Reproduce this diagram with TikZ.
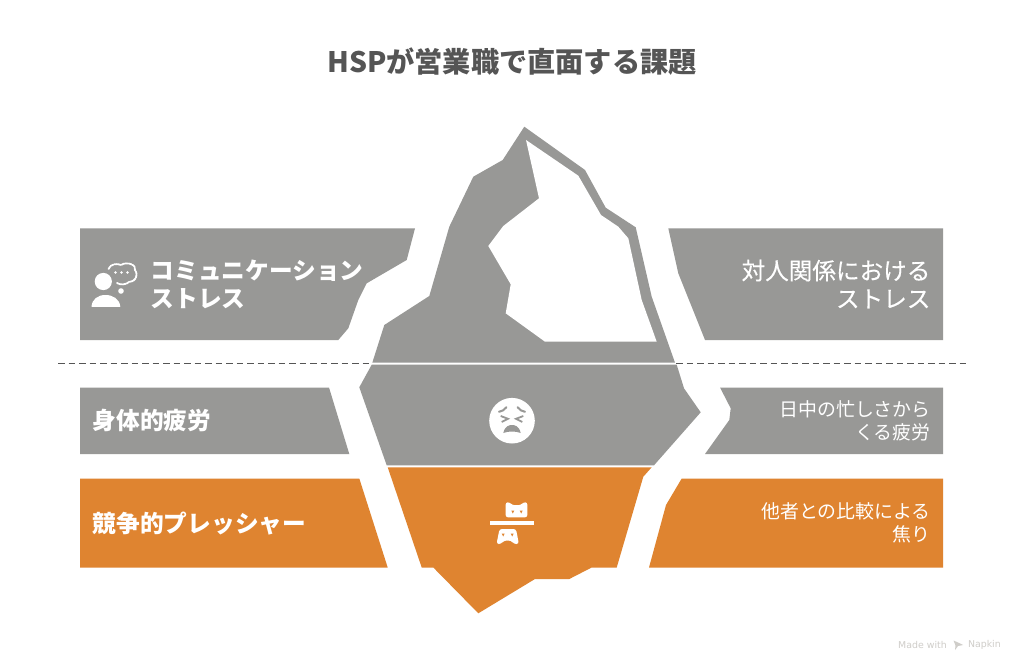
\documentclass[tikz,border=0pt]{standalone}
\usepackage{fontspec}
\setmainfont{Noto Sans CJK JP}
\newfontfamily\jpmed[FakeBold=0.25]{Noto Sans CJK JP}
\newfontfamily\wmfont{DejaVu Sans}
\definecolor{bergray}{HTML}{989896}
\definecolor{berorange}{HTML}{DF8430}
\definecolor{titlegray}{HTML}{555555}
\definecolor{wmgray}{HTML}{CFCDC9}
\tikzset{
  graypanel/.style={fill=bergray,draw=none},
  orangepanel/.style={fill=berorange,draw=none},
  whiteicon/.style={fill=white,draw=none},
  lefttext/.style={text=white,anchor=west,align=left,inner sep=0pt,font=\bfseries\fontsize{23.7}{28}\selectfont},
  righttextbig/.style={text=white,anchor=east,align=right,inner sep=0pt,font=\jpmed\fontsize{23.6}{28}\selectfont},
  righttextsmall/.style={text=white,anchor=east,align=right,inner sep=0pt,font=\fontsize{18.9}{23}\selectfont},
  wmtext/.style={text=wmgray,inner sep=0pt,font=\wmfont\fontsize{9.4}{10}\selectfont},
  dashline/.style={draw=titlegray,line width=1.4pt,dash pattern=on 6.5pt off 4pt}
}
\begin{document}
\begin{tikzpicture}[x=1pt,y=-1pt]
\useasboundingbox (0,0) rectangle (1024,671);
\fill[white] (0,0) rectangle (1024,671);
% title
\node[text=titlegray,inner sep=0pt,font=\bfseries\fontsize{28.2}{32}\selectfont] (title) at (512,62) {HSPが営業職で直面する課題};
% side panels
\path[graypanel] (80,228.3) -- (415,228.3) -- (406.7,260) -- (366.7,283.3) -- (358.3,300) -- (348.3,328.3) -- (338.3,340) -- (80,340) -- cycle;
\path[graypanel] (668.3,228.3) -- (943,228.3) -- (943,340) -- (705,340) -- (678.3,273.3) -- cycle;
\path[graypanel] (80,387.5) -- (329,387.5) -- (349.3,454) -- (80,454) -- cycle;
\path[graypanel] (720,387.5) -- (943,387.5) -- (943,454) -- (705,454) -- (729.3,420) -- (730.7,408.3) -- cycle;
\path[orangepanel] (80,478.5) -- (359.3,478.5) -- (387.7,567.5) -- (80,567.5) -- cycle;
\path[orangepanel] (681.7,478.5) -- (943,478.5) -- (943,567.5) -- (649,567.5) -- (666,505) -- cycle;
% dashed water line
\coordinate (dl1) at (58,363.5); \coordinate (dl2) at (372,363.5);
\coordinate (dr1) at (676,363.5); \coordinate (dr2) at (968,363.5);
\draw[dashline] (dl1) -- (dl2);
\draw[dashline] (dr1) -- (dr2);
% iceberg top
\path[graypanel] (524.3,126.7) -- (585,170) -- (605.7,207.7) -- (635.7,227.3) -- (651.7,296.7) -- (675,362.7) -- (372.3,362.7) -- (384.3,325) -- (429.3,296) -- (449.3,226.7) -- (473.3,176.7) -- (502.7,160) -- cycle;
\path[whiteicon] (526,140) -- (578.3,175.7) -- (601,215) -- (618.3,226.7) -- (628.3,238.3) -- (641.7,300) -- (656.7,341.7) -- (545,341.7) -- (505.7,313.3) -- (510.7,284.3) -- (488.3,246) -- (503.3,226) -- (539,198.3) -- cycle;
% iceberg middle
\path[graypanel] (371.7,364.7) -- (676.7,364.7) -- (684,388.3) -- (700.7,412.3) -- (654,465.3) -- (386.7,465.3) -- (359.3,387.3) -- cycle;
% iceberg bottom
\path[orangepanel] (387.7,467.3) -- (651.7,467.3) -- (643.3,476.7) -- (616.7,567.5) -- (591.7,567.5) -- (569.3,579) -- (535,579) -- (478.3,613.3) -- (433.3,567.5) -- (421.7,567.5) -- cycle;
% texts
\node[lefttext] (comm) at (150.4,284) {コミュニケーション\\ストレス};
\node[righttextbig] (rel) at (930.6,284) {対人関係における\\ストレス};
\node[lefttext] (body) at (92.6,420.5) {身体的疲労};
\node[righttextsmall] (busy) at (930.8,420.5) {日中の忙しさから\\くる疲労};
\node[lefttext] (comp) at (92.6,523.5) {競争的プレッシャー};
\node[righttextsmall] (other) at (930.8,523) {他者との比較による\\焦り};
% person icon
\fill[white] (103.3,281.5) circle (8.6);
\fill[white] (91.5,306.8) .. controls (92,299) and (98,295) .. (105.5,295) .. controls (113,295) and (119.7,299) .. (120.3,306.8) -- cycle;
\draw[white,line width=1.8pt,line cap=round,dash pattern=on 3pt off .8pt] (108.5,269) .. controls (110,264) and (117,263) .. (121,265) .. controls (127,261) and (137,265) .. (135,270) .. controls (139,276) and (135,282) .. (129,282) .. controls (126,285) and (120,285) .. (117,283);
\fill[white] (121,291) circle (2.8);
\foreach \dx in {115.5,121.5,127.5} \fill[white] (\dx,272.5) circle (1.3);
% face icon
\fill[white] (512,420.7) circle (22.8);
\draw[bergray,line width=2pt,line cap=round] (499,411.8) .. controls (501.5,411.5) and (504.5,410) .. (506.5,407.2);
\draw[bergray,line width=2pt,line cap=round] (525,411.8) .. controls (522.5,411.5) and (519.5,410) .. (517.5,407.2);
\draw[bergray,line width=1.8pt] (500.7,416) -- (508,418.8) -- (501.7,422);
\draw[bergray,line width=1.8pt] (523.3,416) -- (516,418.8) -- (522.3,422);
\fill[bergray] (503.3,433) .. controls (505,426) and (509,425) .. (512,425) .. controls (515,425) and (519,426) .. (520.7,433) .. controls (516,431) and (508,431) .. (503.3,433) -- cycle;
% split cat icon
\fill[white,rounded corners=2.2pt] (505.7,502.3) -- (509.5,502.3) -- (512.5,505.2) -- (520.5,505.2) -- (523.5,502.3) -- (527.3,502.3) -- (527.3,517.3) -- (505.7,517.3) -- cycle;
\fill[berorange] (511.3,510.5) -- (514.3,510.5) -- (512.8,513.5) -- cycle;
\fill[berorange] (519.7,510.5) -- (522.7,510.5) -- (521.2,513.5) -- cycle;
\fill[white] (490,521.3) rectangle (533.8,524.8);
\fill[white,rounded corners=2.5pt] (499.5,529) -- (516,529) -- (518.9,544) -- (514,544) -- (511,540.5) -- (504,540.5) -- (501,544) -- (496.5,544) -- cycle;
\fill[berorange] (501.7,533.5) -- (504.7,533.5) -- (503.2,536.5) -- cycle;
\fill[berorange] (510.7,533.5) -- (513.7,533.5) -- (512.2,536.5) -- cycle;
% watermark
\node[wmtext,anchor=west] (wm1) at (898,645) {Made with};
\node[wmtext,anchor=east] (wm2) at (1001,645) {Napkin};
\fill[wmgray] (953.5,640.5) -- (958,642.5) -- (963,645) -- (958,646) -- (955,650) -- (955.5,645.5) -- cycle;
\end{tikzpicture}
\end{document}
